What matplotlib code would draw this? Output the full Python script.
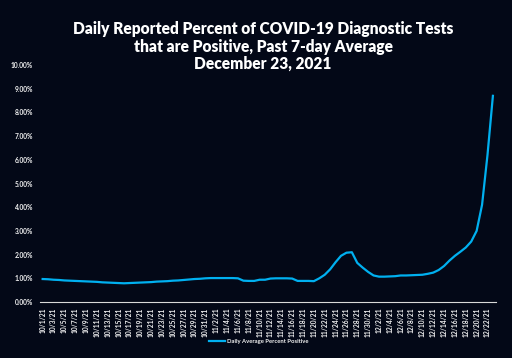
import matplotlib
matplotlib.use("Agg")
import matplotlib.pyplot as plt
import numpy as np
import pandas as pd

# daily dates 10/1/21 .. 12/23/21
dates = pd.date_range("2021-10-01", "2021-12-23", freq="D")
date_labels = [f"{d.month}/{d.day}/21" for d in dates]

# 7-day average percent positive
pct_positive = [
    0.97, 0.96, 0.94, 0.93, 0.91, 0.90, 0.89, 0.88, 0.87, 0.86,
    0.85, 0.83, 0.82, 0.81, 0.80, 0.79, 0.80, 0.81, 0.82, 0.83,
    0.84, 0.86, 0.87, 0.88, 0.90, 0.91, 0.93, 0.95, 0.97, 0.98,
    1.00, 1.01, 1.01, 1.01, 1.01, 1.01, 1.00, 0.90, 0.89, 0.89,
    0.94, 0.94, 0.99, 1.00, 1.00, 1.00, 0.99, 0.89, 0.89, 0.89,
    0.88, 1.00, 1.15, 1.38, 1.68, 1.95, 2.08, 2.10, 1.65, 1.45,
    1.27, 1.12, 1.07, 1.07, 1.08, 1.09, 1.12, 1.12, 1.13, 1.14,
    1.15, 1.19, 1.24, 1.35, 1.52, 1.75, 1.95, 2.12, 2.30, 2.55,
    3.00, 4.10, 6.20, 8.70,
]

bg = "#030817"
line_color = "#00b0f0"
text_color = "#f2f2f2"

plt.rcParams['font.family'] = ['Lato', 'DejaVu Sans']

fig = plt.figure(figsize=(5.12, 3.58), dpi=100, facecolor=bg)
ax = fig.add_axes([0.078, 0.1564, 0.890, 0.662], facecolor=bg)

x = np.arange(len(pct_positive))
ax.plot(x, pct_positive, color=line_color, linewidth=1.6,
        solid_joinstyle='round', label="Daily Average Percent Positive")

ax.set_xlim(-0.5, len(pct_positive) - 0.5)
ax.set_ylim(0, 10)
ax.set_yticks(np.arange(0, 11, 1))
ax.set_yticklabels([f"{v:.2f}%" for v in range(11)])
ax.set_xticks(x[::2])
ax.set_xticklabels(date_labels[::2], rotation=90)

ax.tick_params(axis='both', length=0, colors=text_color, labelsize=4.8)
ax.tick_params(axis='y', pad=5)
ax.tick_params(axis='x', pad=4)
for lbl in ax.get_xticklabels() + ax.get_yticklabels():
    lbl.set_fontweight(700)

for side in ['top', 'right', 'left']:
    ax.spines[side].set_visible(False)
ax.spines['bottom'].set_color('#d9d9d9')
ax.spines['bottom'].set_linewidth(0.8)

fig.text(0.514, 0.94,
         "Daily Reported Percent of COVID-19 Diagnostic Tests\n"
         "that are Positive, Past 7-day Average\n"
         "December 23, 2021",
         ha='center', va='top', color='white', fontsize=11.2,
         fontweight=800, linespacing=1.08)

leg = fig.legend(loc='center', bbox_to_anchor=(0.505, 0.047), frameon=False,
                 fontsize=4.2, handlelength=2.8, handletextpad=0.25)
for t in leg.get_texts():
    t.set_color(text_color)
    t.set_fontweight(700)

fig.savefig("out.png", dpi=100, facecolor=bg)
